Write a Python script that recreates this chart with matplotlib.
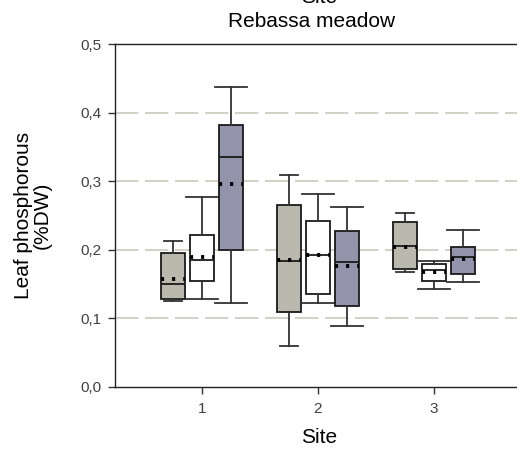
import matplotlib
matplotlib.use("Agg")
import matplotlib.pyplot as plt

plt.rcParams['font.family'] = ['Liberation Sans', 'DejaVu Sans']

sites = [1, 2, 3]
site_labels = ["1", "2", "3"]
yticks = [0.0, 0.1, 0.2, 0.3, 0.4, 0.5]
ytick_labels = ["0,0", "0,1", "0,2", "0,3", "0,4", "0,5"]

# per group: values for sites 1,2,3
a_whislo = [0.125, 0.060, 0.168]
a_q1 = [0.129, 0.109, 0.172]
a_med = [0.150, 0.184, 0.206]
a_q3 = [0.195, 0.265, 0.241]
a_whishi = [0.213, 0.309, 0.253]
a_mean = [0.158, 0.185, 0.204]

b_whislo = [0.129, 0.122, 0.143]
b_q1 = [0.155, 0.136, 0.154]
b_med = [0.185, 0.192, 0.170]
b_q3 = [0.221, 0.242, 0.180]
b_whishi = [0.277, 0.282, 0.184]
b_mean = [0.190, 0.192, 0.168]

c_whislo = [0.122, 0.089, 0.153]
c_q1 = [0.199, 0.118, 0.165]
c_med = [0.335, 0.182, 0.189]
c_q3 = [0.382, 0.227, 0.204]
c_whishi = [0.438, 0.263, 0.229]
c_mean = [0.296, 0.177, 0.187]

groups = [
    (a_whislo, a_q1, a_med, a_q3, a_whishi, a_mean),
    (b_whislo, b_q1, b_med, b_q3, b_whishi, b_mean),
    (c_whislo, c_q1, c_med, c_q3, c_whishi, c_mean),
]
colors = ["#b9b9ad", "#ffffff", "#9393ab"]
offsets = [-0.25, 0.0, 0.25]
capw = [0.15, 0.28, 0.28]

fig = plt.figure(figsize=(5.17, 4.5), dpi=100)
ax = fig.add_axes([115/517, 1-387/450, 1-115/517, (387-44)/450])

for g, (wl, q1, med, q3, wh, mn) in enumerate(groups):
    stats = []
    for i in range(len(sites)):
        stats.append(dict(whislo=wl[i], q1=q1[i], med=med[i], q3=q3[i],
                          whishi=wh[i], mean=mn[i], fliers=[]))
    pos = [s + offsets[g] for s in sites]
    ax.bxp(stats, positions=pos, widths=0.2, capwidths=capw[g],
           patch_artist=True, showmeans=True, meanline=True,
           boxprops=dict(facecolor=colors[g], edgecolor="#1a1a1a", linewidth=1.3),
           medianprops=dict(color="#1a1a1a", linewidth=1.3),
           whiskerprops=dict(color="#333333", linewidth=1.3),
           capprops=dict(color="#333333", linewidth=1.3),
           meanprops=dict(color="black", linewidth=2.8, linestyle=(0, (0.8, 2.05)),
                          dash_capstyle='butt', zorder=5),
           zorder=3)

for y in yticks[1:-1]:
    ax.axhline(y, color="#c9c9bb", linewidth=1.2, linestyle=(0, (14, 4)), zorder=1)

ax.set_xlim(0.25, 3.716)
ax.set_ylim(0.0, 0.5)
ax.set_xticks(sites)
ax.set_xticklabels(site_labels)
ax.set_yticks(yticks)
ax.set_yticklabels(ytick_labels)
ax.tick_params(axis='both', labelsize=11, labelcolor="#404040", color="#333333",
               length=5, width=1, pad=6)
ax.tick_params(axis='y', pad=5)
ax.spines['right'].set_visible(False)
for s in ['left', 'top', 'bottom']:
    ax.spines[s].set_color("#222222")
    ax.spines[s].set_linewidth(1.0)

fig.text(319/517, 1 - 443/450, "Site", ha='center', va='baseline', fontsize=15)
fig.text(33/517, 1 - 215/450, "Leaf phosphorous\n(%DW)", ha='center', va='center',
         rotation=90, multialignment='center', fontsize=15, linespacing=1.0)

fig.text(319/517, 1 - 3/450, "Site", ha='center', va='baseline', fontsize=15)
fig.text(312/517, 1 - 27/450, "Rebassa meadow", ha='center', va='baseline', fontsize=15)

fig.savefig("out.png", dpi=100)
